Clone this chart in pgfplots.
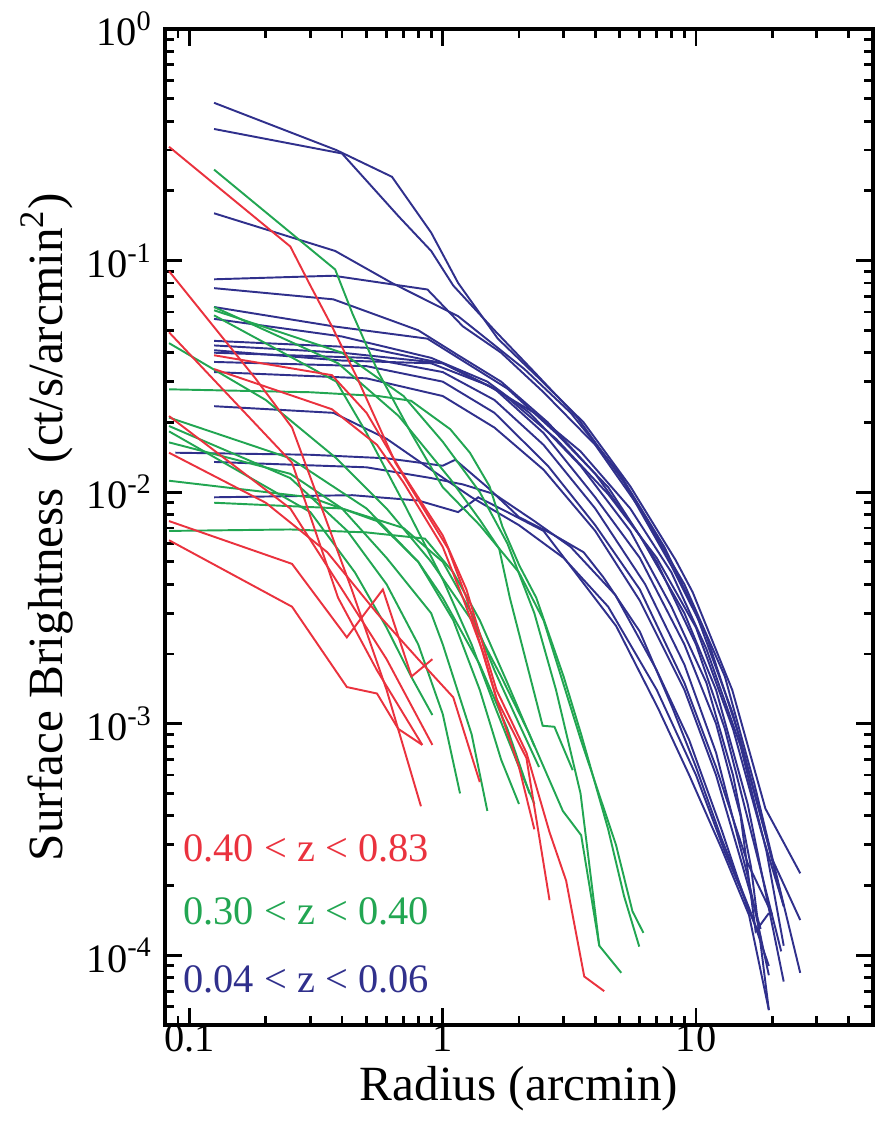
\documentclass[border=0pt]{standalone}
\usepackage{fontspec}
\setmainfont{Liberation Serif}
\usepackage{pgfplots}
\pgfplotsset{compat=1.18}
\definecolor{cr}{RGB}{234,50,62}
\definecolor{cg}{RGB}{34,166,82}
\definecolor{cb}{RGB}{48,48,140}
\pgfplotsset{
  bl/.style={cb, line width=0.55pt},
  gr/.style={cg, line width=0.55pt},
  rd/.style={cr, line width=0.55pt},
}
\begin{document}
\begin{tikzpicture}
\begin{axis}[
  scale only axis, width=70.8mm, height=99.6mm,
  xmode=log, ymode=log, log basis x=10, log basis y=10,
  xmin=0.08, xmax=50, ymin=5e-5, ymax=1,
  axis line style={line width=0.9pt},
  tick align=inside, major tick length=1.7mm, minor tick length=0.9mm,
  every tick/.style={black, line width=0.8pt},
  /pgf/number format/assume math mode=true,
  xticklabel={\pgfmathparse{10^\tick}\pgfmathprintnumber[fixed,precision=1]{\pgfmathresult}},
  yticklabel={10\textsuperscript{\pgfmathparse{int(round(\tick))}\pgfmathresult}},
  tick label style={font=\fontsize{11.5}{13}\selectfont},
  xticklabel style={yshift=0.3mm, inner sep=0.5pt},
  label style={font=\fontsize{14}{16}\selectfont},
  xlabel={Radius (arcmin)},
  ylabel={Surface Brightness~~(ct/s/arcmin\textsuperscript{2})},
  xlabel style={inner sep=0pt, yshift=-1.2mm},
  ylabel style={yshift=-1mm},
  clip=true,
]
% ---------------- blue: 0.04 < z < 0.06 ----------------
\addplot[bl] coordinates {(0.125,0.48)(0.38,0.30)(0.63,0.23)(0.9,0.132)(1.15,0.080)(1.65,0.046)(2.4,0.031)(3.6,0.020)(5.5,0.0106)(8.3,0.0051)(9.7,0.0037)(13.9,0.0014)(18.8,4.3e-4)(25.8,2.26e-4)};
\addplot[bl] coordinates {(0.125,0.37)(0.4,0.29)(0.67,0.155)(0.9,0.11)(1.1,0.078)(1.6,0.050)(2.3,0.033)(3.4,0.021)(5.2,0.011)(8.0,0.0048)(11,0.0024)(15,8.5e-4)(20,2.6e-4)(25.8,1.42e-4)};
\addplot[bl] coordinates {(0.125,0.16)(0.376,0.11)(0.63,0.080)(1.15,0.0575)(2.1,0.034)(3.2,0.022)(5,0.012)(7.5,0.0058)(10,0.0030)(14,0.0011)(19,3.2e-4)(22.2,1.63e-4)};
\addplot[bl] coordinates {(0.125,0.083)(0.37,0.086)(0.87,0.075)(1.2,0.052)(1.7,0.040)(2.5,0.027)(4,0.016)(6,0.0085)(9,0.0040)(13,0.0016)(17,5.5e-4)(25.8,8.4e-5)};
\addplot[bl] coordinates {(0.125,0.076)(0.37,0.068)(0.8,0.050)(1.15,0.039)(1.7,0.030)(2.6,0.020)(4,0.012)(6,0.0065)(9,0.0030)(12,0.0014)(16,4.5e-4)(22.2,7.7e-5)};
\addplot[bl] coordinates {(0.125,0.063)(0.37,0.052)(0.87,0.046)(1.15,0.038)(1.8,0.028)(2.8,0.018)(4.5,0.0105)(7,0.0050)(10,0.0022)(13,9.5e-4)(17,3.0e-4)(21.7,1.04e-4)};
\addplot[bl] coordinates {(0.125,0.056)(0.4,0.047)(0.9,0.038)(1.5,0.030)(2.2,0.022)(3.5,0.013)(5.5,0.0068)(8,0.0032)(11,0.0015)(14,6e-4)(16.5,2.4e-4)(19.4,5.8e-5)};
\addplot[bl] coordinates {(0.125,0.043)(0.4,0.040)(1.0,0.036)(1.6,0.028)(2.5,0.018)(4,0.0095)(6,0.0052)(9,0.0022)(12,0.0010)(15,4e-4)(17.2,1.27e-4)(19.4,1.52e-4)};
\addplot[bl] coordinates {(0.125,0.041)(0.4,0.037)(0.9,0.036)(1.5,0.029)(2.3,0.022)(3.5,0.015)(5.5,0.0085)(8,0.0045)(11,0.0021)(15,8e-4)(19,2.8e-4)(22.2,1.1e-4)};
\addplot[bl] coordinates {(0.125,0.040)(0.5,0.038)(1.0,0.033)(1.6,0.025)(2.5,0.016)(4,0.0085)(6.3,0.0040)(9,0.0018)(12,7.5e-4)(16,2.2e-4)(19.4,8.2e-5)};
\addplot[bl] coordinates {(0.125,0.0365)(0.5,0.035)(1.0,0.030)(1.6,0.022)(2.6,0.013)(4,0.0072)(6,0.0038)(9,0.0015)(12,6.5e-4)(16,2.5e-4)(20,1.5e-4)};
\addplot[bl] coordinates {(0.125,0.0235)(0.37,0.022)(0.6,0.017)(0.9,0.0125)(1.3,0.0095)(2,0.0072)(3,0.0052)(4.5,0.0032)(7,0.0014)(10,6e-4)(13,2.8e-4)(17,1.4e-4)};
\addplot[bl] coordinates {(0.088,0.0148)(0.3,0.0145)(0.6,0.014)(1.0,0.0130)(1.12,0.0138)(1.5,0.0105)(2.0,0.0078)(2.7,0.0066)(3.6,0.0055)(4.3,0.0043)(6,0.0025)(8,0.0012)(10,6.5e-4)(12.6,3.2e-4)(16.2,1.6e-4)(19.4,9e-5)};
\addplot[bl] coordinates {(0.125,0.0135)(0.5,0.0128)(0.9,0.0115)(1.2,0.0108)(1.6,0.0098)(2.3,0.0075)(3.2,0.0058)(4.8,0.0036)(7,0.0017)(9.4,8.5e-4)(12.6,3.5e-4)(16,1.6e-4)(18,1.2e-4)};
\addplot[bl] coordinates {(0.125,0.0095)(0.44,0.0097)(0.8,0.0092)(1.15,0.0082)(1.38,0.0095)(1.8,0.0082)(2.5,0.0068)(3.56,0.0041)(4.84,0.00264)(7.1,0.00116)(9.4,6e-4)(12.6,2.9e-4)(16.2,1.49e-4)(19.4,5.8e-5)};
\addplot[bl] coordinates {(0.125,0.033)(0.5,0.031)(1.0,0.026)(1.6,0.019)(2.5,0.0125)(4,0.0068)(6,0.0034)(9,0.0014)(12,6e-4)(15,2.6e-4)(18,1.3e-4)};
\addplot[bl] coordinates {(0.125,0.045)(0.5,0.042)(1.0,0.036)(1.7,0.027)(2.8,0.017)(4.5,0.0098)(7,0.0052)(10,0.0026)(14,9.5e-4)(18,3.5e-4)(22.2,1.63e-4)};
% ---------------- green: 0.30 < z < 0.40 ----------------
\addplot[gr] coordinates {(0.125,0.247)(0.376,0.0915)(0.44,0.059)(0.556,0.033)(0.75,0.018)(1.0,0.0105)(1.4,0.0072)(2.0,0.0045)(2.5,0.0028)(3.5,8.6e-4)(4.83,3.0e-4)(5.61,1.55e-4)(6.2,1.25e-4)};
\addplot[gr] coordinates {(0.125,0.063)(0.386,0.036)(0.67,0.0213)(1.07,0.0114)(1.4,0.0076)(1.67,0.0057)(1.84,0.0035)(2.48,9.8e-4)(2.76,9.7e-4)(3.26,6.3e-4)};
\addplot[gr] coordinates {(0.125,0.058)(0.38,0.030)(0.5,0.018)(0.7,0.009)(1.0,0.0042)(1.3,0.0022)(1.6,0.0012)(2.0,6.5e-4)(2.3,4.5e-4)};
\addplot[gr] coordinates {(0.083,0.044)(0.2,0.025)(0.38,0.014)(0.6,0.0085)(0.9,0.0050)(1.3,0.0028)(1.7,0.0016)(2.2,9e-4)(2.98,4.2e-4)(3.52,3.3e-4)(4.15,1.1e-4)(5.07,8.4e-5)};
\addplot[gr] coordinates {(0.083,0.0278)(0.3,0.027)(0.556,0.026)(0.75,0.0248)(1.07,0.0187)(1.28,0.0148)(1.53,0.0106)(1.72,0.0071)(2.01,0.0048)(2.34,0.0035)(3.0,0.0016)(3.52,9e-4)(4.5,3.5e-4)(5.2,1.8e-4)(5.97,1.09e-4)};
\addplot[gr] coordinates {(0.083,0.0193)(0.25,0.0115)(0.42,0.0068)(0.6,0.0040)(0.8,0.0022)(1.0,0.0011)(1.17,5.0e-4)};
\addplot[gr] coordinates {(0.083,0.0183)(0.3,0.0082)(0.45,0.0045)(0.6,0.0026)(0.75,0.0016)(0.91,1.09e-3)};
\addplot[gr] coordinates {(0.083,0.0164)(0.25,0.012)(0.4,0.0085)(0.6,0.0052)(0.9,0.0030)(1.0,0.0022)(1.3,9e-4)(1.5,4.2e-4)};
\addplot[gr] coordinates {(0.083,0.0112)(0.3,0.0095)(0.55,0.0075)(0.8,0.005)(1.0,0.0035)(1.4,0.0018)(1.8,9.5e-4)(2.2,5e-4)};
\addplot[gr] coordinates {(0.125,0.0090)(0.4,0.0085)(0.7,0.0070)(1.0,0.0050)(1.3,0.0030)(1.6,0.0017)(2.0,0.0010)(2.4,6.5e-4)};
\addplot[gr] coordinates {(0.083,0.0068)(0.25,0.0069)(0.5,0.0067)(0.85,0.0063)(1.1,0.0045)(1.4,0.0028)(1.8,0.0015)(2.3,8e-4)};
\addplot[gr] coordinates {(0.083,0.021)(0.25,0.014)(0.5,0.0085)(0.8,0.0050)(1.1,0.0028)(1.4,0.0014)(1.7,7e-4)(2.0,4.5e-4)};
\addplot[gr] coordinates {(0.125,0.061)(0.4,0.040)(0.7,0.026)(1.0,0.0165)(1.4,0.010)(1.8,0.0060)(2.3,0.0030)(2.8,0.0014)(3.5,5e-4)(4.15,1.1e-4)};
% ---------------- red: 0.40 < z < 0.83 ----------------
\addplot[rd] coordinates {(0.083,0.31)(0.25,0.115)(0.30,0.078)(0.365,0.052)(0.46,0.031)(0.65,0.0134)(1.05,0.0057)(1.24,0.0035)(1.63,0.00128)(2.14,7.1e-4)(2.64,1.73e-4)};
\addplot[rd] coordinates {(0.083,0.09)(0.182,0.031)(0.254,0.019)(0.437,0.0038)(0.6,0.0014)(0.82,4.4e-4)};
\addplot[rd] coordinates {(0.083,0.049)(0.254,0.0134)(0.386,0.0035)(0.55,0.0017)(0.83,8.1e-4)};
\addplot[rd] coordinates {(0.125,0.039)(0.365,0.032)(0.5,0.022)(0.68,0.0125)(1.0,0.0065)(1.24,0.0038)(1.63,0.0014)(2.14,7.5e-4)(2.64,3.4e-4)(3.07,2.1e-4)(3.62,8.1e-5)(4.34,7.0e-5)};
\addplot[rd] coordinates {(0.125,0.034)(0.365,0.0228)(0.55,0.016)(0.7,0.011)(1.0,0.0058)(1.2,0.0035)(1.45,0.0020)(1.7,0.0011)(2.0,6.5e-4)(2.3,3.5e-4)};
\addplot[rd] coordinates {(0.083,0.0213)(0.25,0.0085)(0.42,0.0035)(0.6,0.0019)(0.91,8.1e-4)};
\addplot[rd] coordinates {(0.083,0.0148)(0.2,0.0090)(0.35,0.0055)(0.55,0.0030)(0.8,0.0019)(1.1,0.0013)(1.4,5.6e-4)};
\addplot[rd] coordinates {(0.083,0.0075)(0.254,0.0049)(0.418,0.00236)(0.58,0.0038)(0.753,0.0016)(0.91,0.0019)};
\addplot[rd] coordinates {(0.083,0.0062)(0.254,0.0032)(0.418,0.00144)(0.55,0.00135)(0.667,9.5e-4)(0.83,8.1e-4)};
% ---------------- labels ----------------
\node[anchor=west, text=cr, font=\fontsize{11.5}{13}\selectfont, inner sep=0pt] at (axis cs:0.094,2.9e-4) {0.40 < z < 0.83};
\node[anchor=west, text=cg, font=\fontsize{11.5}{13}\selectfont, inner sep=0pt] at (axis cs:0.094,1.55e-4) {0.30 < z < 0.40};
\node[anchor=west, text=cb, font=\fontsize{11.5}{13}\selectfont, inner sep=0pt] at (axis cs:0.094,7.9e-5) {0.04 < z < 0.06};
\end{axis}
\pgfresetboundingbox
\path[use as bounding box] (current axis.south west) ++(-16.5mm,-10.2mm) rectangle ++(88.6mm,112.7mm);
\end{tikzpicture}
\end{document}
